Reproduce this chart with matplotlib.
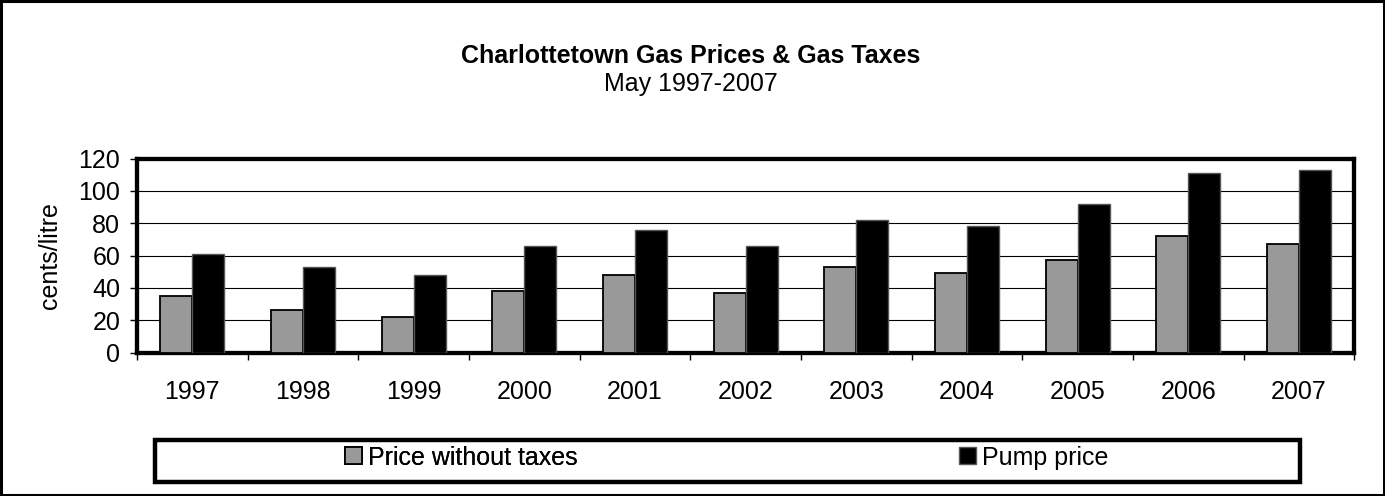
import numpy as np
import matplotlib.pyplot as plt
from matplotlib.patches import Rectangle

years = ['1997', '1998', '1999', '2000', '2001', '2002', '2003', '2004', '2005', '2006', '2007']
no_tax = [35, 26, 22, 38, 48, 37, 53, 49, 57, 72, 67]          # price without taxes
pump = [61, 53, 48, 66, 76, 66, 82, 78.5, 92, 111, 113]         # pump price
y_ticks = [0, 20, 40, 60, 80, 100, 120]

plt.rcParams['font.family'] = ['Liberation Sans', 'DejaVu Sans']
fs = 18

fig = plt.figure(figsize=(13.85, 4.96), dpi=100)
ax = fig.add_axes([0.0989, 0.2893, 0.879, 0.3909])

x = np.arange(len(years))
w = 0.29
b1 = ax.bar(x - w / 2, no_tax, w, color='#999999', edgecolor='black', linewidth=1.3,
            label='Price without taxes', zorder=3)
b2 = ax.bar(x + w / 2, pump, w, color='black', edgecolor='#555555', linewidth=1.0,
            label='Pump price', zorder=3)

ax.set_xlim(-0.5, len(years) - 0.5)
ax.set_ylim(0, 120)
ax.set_yticks(y_ticks)
ax.set_xticks(x)
ax.set_xticklabels(years)
ax.set_xticks(np.arange(-0.5, len(years), 1), minor=True)
ax.tick_params(axis='x', which='major', length=0, pad=20, labelsize=fs)
ax.tick_params(axis='x', which='minor', length=5, width=1, direction='out')
ax.tick_params(axis='y', length=5, width=1, direction='out', pad=7, labelsize=fs)
ax.yaxis.grid(True, color='black', linewidth=0.8)
ax.set_axisbelow(True)
for s in ax.spines.values():
    s.set_linewidth(3.1)
ax.set_ylabel('cents/litre', fontsize=fs, labelpad=12)

fig.text(0.4985, 0.873, 'Charlottetown Gas Prices & Gas Taxes', ha='center', va='baseline',
         fontsize=fs, fontweight='bold')
fig.text(0.4985, 0.8165, 'May 1997-2007', ha='center', va='baseline', fontsize=fs)

# legend box
fig.patches.append(Rectangle((0.1119, 0.0282), 0.8267, 0.0847, transform=fig.transFigure,
                             facecolor='white', edgecolor='black', linewidth=3.2, zorder=1))
leg_kw = dict(loc='center left', frameon=False, fontsize=fs, borderpad=0, borderaxespad=0,
              handlelength=0.68, handleheight=0.68, handletextpad=0.25)
leg1 = fig.legend(handles=[b1], bbox_to_anchor=(0.2491, 0.0776), **leg_kw)
fig.legend(handles=[b2], bbox_to_anchor=(0.6924, 0.0776), **leg_kw)
fig.add_artist(leg1)

# outer border
fig.patches.append(Rectangle((0.001, 0.003), 0.998, 0.994, transform=fig.transFigure,
                             facecolor='none', edgecolor='black', linewidth=2.2))

fig.savefig('out.png')
